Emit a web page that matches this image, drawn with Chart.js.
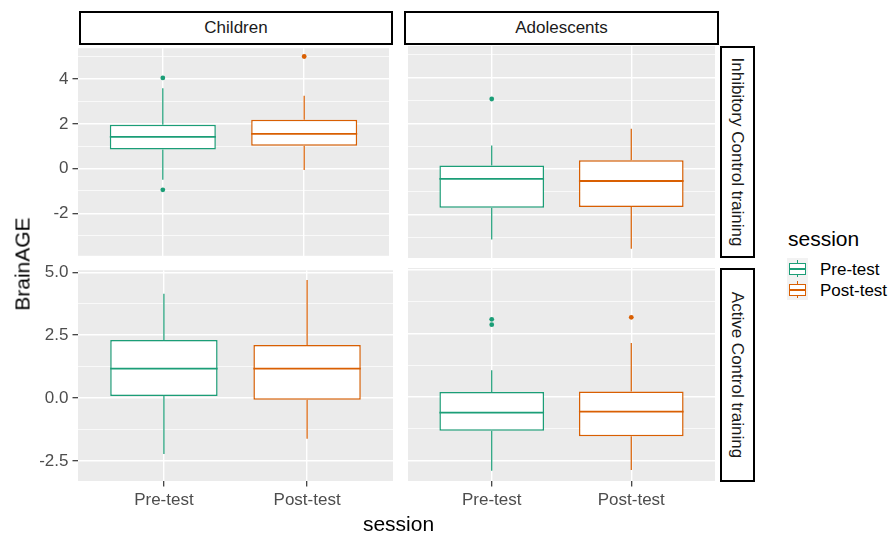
<!DOCTYPE html>
<html>
<head>
<meta charset="utf-8">
<script src="https://cdn.jsdelivr.net/npm/chart.js@4"></script>
<style>
  body { margin: 0; background: #fff; font-family: "Liberation Sans", Arial, sans-serif; }
  #wrap { position: relative; width: 891px; height: 536px; overflow: hidden; }
  .panel { position: absolute; }
  .strip { position: absolute; box-sizing: border-box; border: 2px solid #000; background: #fff;
           color: #1A1A1A; font-size: 17px; display: flex; align-items: center; justify-content: center; }
  .strip span { white-space: nowrap; }
  .vstrip span { transform: rotate(90deg); }
  .txt { position: absolute; white-space: nowrap; line-height: 1; color: #000; }
  .key { position: absolute; width: 21px; height: 21px; background: #F2F2F2; }
  .key .wh { position: absolute; left: 10px; width: 1.2px; top: 2px; height: 17px; }
  .key .bx { position: absolute; left: 2px; width: 17px; top: 5px; height: 12px; box-sizing: border-box; background: #fff; border: 1.4px solid; }
  .key .md { position: absolute; left: 2px; width: 17px; top: 10px; height: 1.8px; }
</style>
</head>
<body>
<div id="wrap">
  <div class="panel" style="left:0;top:34px"><canvas id="c1" width="393" height="236"></canvas></div>
  <div class="panel" style="left:404px;top:34px"><canvas id="c2" width="315" height="236"></canvas></div>
  <div class="panel" style="left:0;top:256px"><canvas id="c3" width="393" height="261"></canvas></div>
  <div class="panel" style="left:404px;top:256px"><canvas id="c4" width="315" height="261"></canvas></div>

  <div class="strip" style="left:79px;top:11px;width:314px;height:34px"><span>Children</span></div>
  <div class="strip" style="left:404px;top:11px;width:315px;height:34px"><span>Adolescents</span></div>
  <div class="strip vstrip" style="left:720px;top:46px;width:35px;height:212px"><span>Inhibitory Control training</span></div>
  <div class="strip vstrip" style="left:720px;top:268px;width:35px;height:214px"><span>Active Control training</span></div>

  <div class="txt" style="left:398.5px;top:513px;font-size:21px;transform:translateX(-50%)">session</div>
  <div class="txt" style="left:21.5px;top:263.5px;font-size:21px;transform:translate(-50%,-50%) rotate(-90deg)">BrainAGE</div>

  <div class="txt" style="left:788px;top:228px;font-size:21px">session</div>
  <div class="key" style="left:787px;top:258px">
    <div class="wh" style="background:#1B9E77"></div><div class="bx" style="border-color:#1B9E77"></div><div class="md" style="background:#1B9E77"></div>
  </div>
  <div class="key" style="left:787px;top:279px">
    <div class="wh" style="background:#D95F02"></div><div class="bx" style="border-color:#D95F02"></div><div class="md" style="background:#D95F02"></div>
  </div>
  <div class="txt" style="left:820px;top:260.5px;font-size:17px">Pre-test</div>
  <div class="txt" style="left:820px;top:281.5px;font-size:17px">Post-test</div>
</div>

<script>
const sessions = ['Pre-test', 'Post-test']
const colors = ['#1B9E77', '#D95F02']

// [lower whisker, Q1, median, Q3, upper whisker]
const icChildrenPre = [-0.50, 0.85, 1.42, 1.96, 3.59]
const icChildrenPost = [-0.07, 1.02, 1.55, 2.18, 3.25]
const icAdolPre = [-3.09, -1.70, -0.44, 0.15, 1.02]
const icAdolPost = [-3.49, -1.67, -0.53, 0.38, 1.76]
const acChildrenPre = [-2.23, 0.08, 1.17, 2.31, 4.14]
const acChildrenPost = [-1.62, -0.07, 1.17, 2.11, 4.69]
const acAdolPre = [-2.90, -1.32, -0.61, 0.20, 1.06]
const acAdolPost = [-2.87, -1.54, -0.57, 0.22, 2.13]

// outliers
const icChildrenPreOut = [4.05, -0.95]
const icChildrenPostOut = [5.01]
const icAdolPreOut = [3.06]
const icAdolPostOut = []
const acChildrenPreOut = []
const acChildrenPostOut = []
const acAdolPreOut = [3.06, 2.85]
const acAdolPostOut = [3.14]

// y axes (free per row)
const yTopRange = [-3.9, 5.38]
const yTopTicks = [-3, -2, -1, 0, 1, 2, 3, 4, 5]
const yTopMajor = [-2, 0, 2, 4]
const yBottomRange = [-3.3, 5.08]
const yBottomTicks = [-2.5, -1.25, 0, 1.25, 2.5, 3.75, 5]
const yBottomMajor = [-2.5, 0, 2.5, 5]

Chart.defaults.font.family = '"Liberation Sans", Arial, sans-serif'

const panelBg = {
    id: 'panelBg',
    beforeDraw(chart) {
        const a = chart.chartArea
        chart.ctx.save()
        chart.ctx.fillStyle = '#EBEBEB'
        chart.ctx.fillRect(a.left, a.top, a.right - a.left, a.bottom - a.top)
        chart.ctx.restore()
    }
}

// whiskers under the boxes, medians on top
const boxExtras = {
    id: 'boxExtras',
    beforeDatasetsDraw(chart, args, opts) {
        const ctx = chart.ctx, y = chart.scales.y
        const bars = chart.getDatasetMeta(0).data
        ctx.save()
        ctx.lineWidth = 1.2
        opts.stats.forEach((s, i) => {
            const x = bars[i].x
            ctx.strokeStyle = colors[i]
            ctx.beginPath()
            ctx.moveTo(x, y.getPixelForValue(s[0]))
            ctx.lineTo(x, y.getPixelForValue(s[1]))
            ctx.moveTo(x, y.getPixelForValue(s[3]))
            ctx.lineTo(x, y.getPixelForValue(s[4]))
            ctx.stroke()
        })
        ctx.restore()
    },
    afterDatasetsDraw(chart, args, opts) {
        const ctx = chart.ctx, y = chart.scales.y
        const bars = chart.getDatasetMeta(0).data
        ctx.save()
        ctx.lineWidth = 1.8
        opts.stats.forEach((s, i) => {
            const b = bars[i]
            const py = y.getPixelForValue(s[2])
            ctx.strokeStyle = colors[i]
            ctx.beginPath()
            ctx.moveTo(b.x - b.width / 2, py)
            ctx.lineTo(b.x + b.width / 2, py)
            ctx.stroke()
        })
        ctx.restore()
    }
}

function makePanel(id, stats, outs, row, showY, showX) {
    const range = row == 0 ? yTopRange : yBottomRange
    const tickVals = row == 0 ? yTopTicks : yBottomTicks
    const major = row == 0 ? yTopMajor : yBottomMajor
    const fmt = v => row == 0 ? String(v) : v.toFixed(1)

    let points = []
    outs.forEach((o, i) => {
        o.forEach(v => { points = [...points, { x: i + 1, y: v }] })
    })

    return new Chart(document.getElementById(id), {
        type: 'bar',
        data: {
            datasets: [{
                type: 'bar',
                data: stats.map((s, i) => ({ x: i + 1, y: [s[1], s[3]] })),
                backgroundColor: '#fff',
                borderColor: colors,
                borderWidth: 1.5,
                borderSkipped: false,
                categoryPercentage: 0.75,
                barPercentage: 1
            }, {
                type: 'scatter',
                data: points,
                pointRadius: 2.4,
                pointBorderWidth: 0,
                pointBackgroundColor: c => (c.raw ? colors[c.raw.x - 1] : colors[0])
            }]
        },
        options: {
            responsive: false,
            animation: false,
            layout: { padding: { top: 12, bottom: showX ? 0 : 12, left: 0, right: 0 } },
            plugins: {
                legend: { display: false },
                tooltip: { enabled: false },
                boxExtras: { stats: stats }
            },
            scales: {
                x: {
                    type: 'linear',
                    min: 0.4,
                    max: 2.6,
                    offset: false,
                    afterBuildTicks: a => { a.ticks = [{ value: 1 }, { value: 2 }] },
                    afterFit: a => { a.height = showX ? 36 : 0 },
                    ticks: {
                        display: showX,
                        callback: v => sessions[v - 1],
                        color: '#4D4D4D',
                        font: { size: 17 },
                        padding: 4,
                        autoSkip: false,
                        maxRotation: 0
                    },
                    grid: { offset: false, color: '#fff', lineWidth: 1.4, drawTicks: showX, tickLength: 5.5, tickColor: '#333', tickWidth: 1.2 },
                    border: { display: false }
                },
                y: {
                    type: 'linear',
                    min: range[0],
                    max: range[1],
                    afterBuildTicks: a => { a.ticks = tickVals.map(v => ({ value: v })) },
                    afterFit: a => { a.width = showY ? 78 : 0 },
                    ticks: {
                        display: showY,
                        callback: v => major.includes(v) ? fmt(v) : '',
                        color: '#4D4D4D',
                        font: { size: 17 },
                        padding: 4,
                        autoSkip: false
                    },
                    grid: {
                        color: '#fff',
                        lineWidth: c => major.includes(c.tick.value) ? 1.4 : 0.7,
                        drawTicks: showY,
                        tickLength: 5.5,
                        tickColor: c => major.includes(c.tick.value) ? '#333' : 'rgba(0,0,0,0)',
                        tickWidth: 1.2
                    },
                    border: { display: false }
                }
            }
        },
        plugins: [panelBg, boxExtras]
    })
}

makePanel('c1', [icChildrenPre, icChildrenPost], [icChildrenPreOut, icChildrenPostOut], 0, true, false)
makePanel('c2', [icAdolPre, icAdolPost], [icAdolPreOut, icAdolPostOut], 0, false, false)
makePanel('c3', [acChildrenPre, acChildrenPost], [acChildrenPreOut, acChildrenPostOut], 1, true, true)
makePanel('c4', [acAdolPre, acAdolPost], [acAdolPreOut, acAdolPostOut], 1, false, true)
</script>
</body>
</html>
